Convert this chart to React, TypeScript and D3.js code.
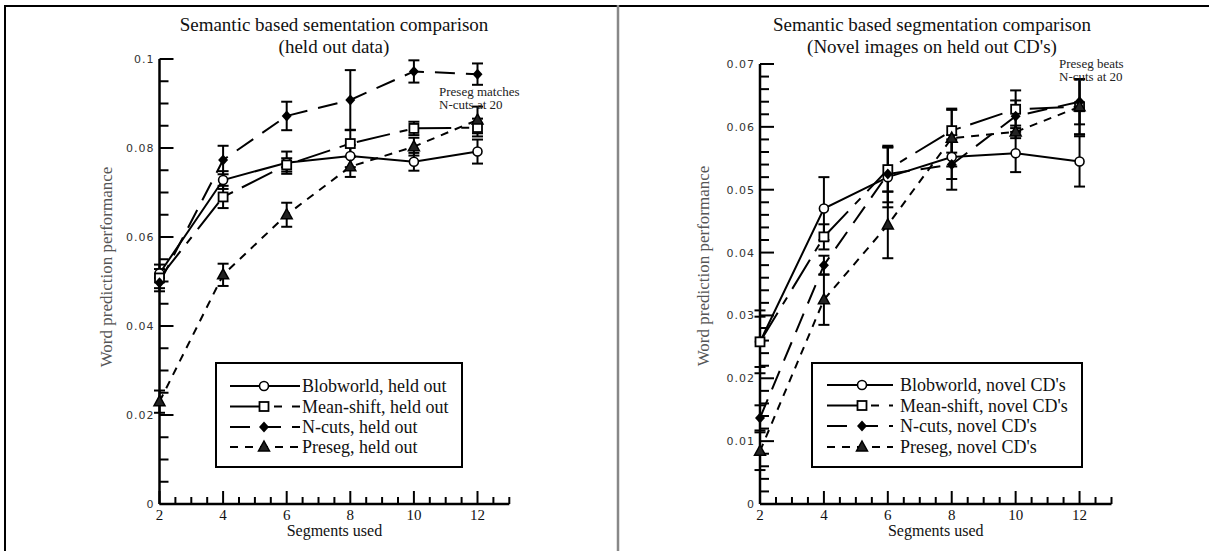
import React from 'react';
import * as d3 from 'd3';

const segments = [2, 4, 6, 8, 10, 12];

// held out data
const heldBlob = [0.0518, 0.0728, 0.0767, 0.0782, 0.0769, 0.0792];
const heldBlobErr = [0.001, 0.002, 0.0025, 0.0025, 0.002, 0.0027];
const heldMean = [0.0508, 0.069, 0.0762, 0.081, 0.0844, 0.0846];
const heldMeanErr = [0.003, 0.0025, 0.0015, 0.003, 0.0015, 0.002];
const heldNcuts = [0.0497, 0.0773, 0.0872, 0.0908, 0.0972, 0.0966];
const heldNcutsErr = [0.0012, 0.0032, 0.0032, 0.0067, 0.0025, 0.0024];
const heldPreseg = [0.023, 0.0515, 0.065, 0.0758, 0.0803, 0.0863];
const heldPresegErr = [0.0025, 0.0025, 0.0027, 0.0023, 0.002, 0.003];

// novel CD's
const novelBlob = [0.0258, 0.047, 0.052, 0.0552, 0.0558, 0.0545];
const novelBlobErr = [0.004, 0.005, 0.0048, 0.0035, 0.003, 0.004];
const novelMean = [0.0258, 0.0425, 0.0532, 0.0594, 0.0628, 0.0632];
const novelMeanErr = [0.005, 0.002, 0.0035, 0.0035, 0.003, 0.0044];
const novelNcuts = [0.0137, 0.038, 0.0525, 0.054, 0.0617, 0.064];
const novelNcutsErr = [0.002, 0.0015, 0.0045, 0.004, 0.0025, 0.0036];
const novelPreseg = [0.0084, 0.0325, 0.0444, 0.0582, 0.0592, 0.0632];
const novelPresegErr = [0.003, 0.004, 0.0053, 0.0045, 0.001, 0.0044];

const heldYTicks = [0, 0.02, 0.04, 0.06, 0.08, 0.1];
const novelYTicks = [0, 0.01, 0.02, 0.03, 0.04, 0.05, 0.06, 0.07];
const heldLegend = ['Blobworld, held out', 'Mean-shift, held out', 'N-cuts,  held out', 'Preseg, held out'];
const novelLegend = ["Blobworld, novel CD's", "Mean-shift, novel CD's", "N-cuts, novel CD's", "Preseg, novel CD's"];

const markers = ['circle', 'square', 'diamond', 'triangle'];
const dashes = ['none', '34,10,8,10', '20,11', '8,7'];

const serif = { fontFamily: "'Liberation Serif', 'Times New Roman', Times, 'DejaVu Serif', serif" };
const sans = { fontFamily: "'DejaVu Sans', sans-serif" };

function Marker({ kind, x, y }: { kind: string; x: number; y: number }) {
  if (kind === 'circle') return <circle cx={x} cy={y} r={4.5} fill="#fff" stroke="#000" strokeWidth={1.6} />;
  if (kind === 'square') return <rect x={x - 4.5} y={y - 4.5} width={9} height={9} fill="#fff" stroke="#000" strokeWidth={1.8} />;
  if (kind === 'diamond') return <path d={`M${x},${y - 5.5}L${x + 5},${y}L${x},${y + 5.5}L${x - 5},${y}Z`} fill="#000" />;
  return <path d={`M${x},${y - 6}L${x + 5.5},${y + 4}L${x - 5.5},${y + 4}Z`} fill="#222" stroke="#000" strokeWidth={1.5} />;
}

type PanelProps = {
  x0: number; x1: number; yTop: number; yBot: number;
  yMax: number; yMinor: number; yTicks: number[]; yFmt: (v: number) => string;
  series: number[][]; errs: number[][];
  title: string[]; titleX: number; yLabelX: number; yLabelY: number;
  note: string[]; noteX: number; noteY: number;
  legend: string[]; box: [number, number, number, number];
  legRows: number[]; legX: [number, number, number, number];
};

function Panel(p: PanelProps) {
  const x = d3.scaleLinear().domain([2, 13]).range([p.x0, p.x1]);
  const y = d3.scaleLinear().domain([0, p.yMax]).range([p.yBot, p.yTop]);
  const line = d3.line<number>().x((_, i) => x(segments[i])).y(d => y(d));
  const xMinor = d3.range(2, 13.01, 0.5);
  const yMinor = d3.range(0, p.yMax + 1e-9, p.yMinor);
  const isMajorY = (v: number) => p.yTicks.some(t => Math.abs(t - v) < 1e-9);
  return (
    <g>
      {p.title.map((t, i) => (
        <text key={t} x={p.titleX} y={31 + i * 22} textAnchor="middle" style={serif} fontSize={19} fill="#111">{t}</text>
      ))}
      <text transform={`translate(${p.yLabelX},${p.yLabelY}) rotate(-90)`} textAnchor="middle"
        style={serif} fontSize={17} fill="#555">Word prediction performance</text>
      <text x={(p.x0 + p.x1) / 2} y={536} textAnchor="middle" style={serif} fontSize={16} fill="#111">Segments used</text>
      {/* axes */}
      <line x1={p.x0} x2={p.x0} y1={p.yTop} y2={p.yBot} stroke="#000" strokeWidth={2.5} />
      <line x1={p.x0} x2={p.x1} y1={p.yBot} y2={p.yBot} stroke="#000" strokeWidth={2.5} />
      {yMinor.map(v => (
        <line key={'ym' + v} x1={p.x0} x2={p.x0 + (isMajorY(v) ? 14 : 9)} y1={y(v)} y2={y(v)} stroke="#000" strokeWidth={2} />
      ))}
      {xMinor.map(v => (
        <line key={'xm' + v} x1={x(v)} x2={x(v)} y1={p.yBot} y2={p.yBot - (v % 2 === 0 ? 13 : 7)} stroke="#000" strokeWidth={2} />
      ))}
      {p.yTicks.map(v => (
        <text key={'yl' + v} x={p.x0 - 5} y={y(v) + 4} textAnchor="end" style={sans}
          fontSize={11} letterSpacing={1} fill="#333">{p.yFmt(v)}</text>
      ))}
      {segments.map(v => (
        <text key={'xl' + v} x={x(v)} y={520} textAnchor="middle" style={serif} fontSize={15} fill="#111">{v}</text>
      ))}
      {/* series */}
      {p.series.map((s, k) => (
        <path key={'s' + k} d={line(s) || ''} fill="none" stroke="#000" strokeWidth={2}
          strokeDasharray={dashes[k] === 'none' ? undefined : dashes[k]} />
      ))}
      {p.series.map((s, k) => s.map((v, i) => {
        const e = p.errs[k][i];
        const cx = x(segments[i]);
        return (
          <g key={`e${k}-${i}`} stroke="#000" strokeWidth={2}>
            <line x1={cx} x2={cx} y1={y(v + e)} y2={y(v - e)} />
            <line x1={cx - 5.5} x2={cx + 5.5} y1={y(v + e)} y2={y(v + e)} />
            <line x1={cx - 5.5} x2={cx + 5.5} y1={y(v - e)} y2={y(v - e)} />
          </g>
        );
      }))}
      {p.series.map((s, k) => s.map((v, i) => (
        <Marker key={`m${k}-${i}`} kind={markers[k]} x={x(segments[i])} y={y(v)} />
      )))}
      {p.note.map((t, i) => (
        <text key={t} x={p.noteX} y={p.noteY + i * 13} style={serif} fontSize={13} fill="#222">{t}</text>
      ))}
      {/* legend */}
      <rect x={p.box[0]} y={p.box[1]} width={p.box[2] - p.box[0]} height={p.box[3] - p.box[1]}
        fill="#fff" stroke="#000" strokeWidth={2} />
      {p.legend.map((t, k) => (
        <g key={t}>
          <line x1={p.legX[0]} x2={p.legX[2]} y1={p.legRows[k]} y2={p.legRows[k]} stroke="#000" strokeWidth={2}
            strokeDasharray={dashes[k] === 'none' ? undefined : dashes[k]} />
          <Marker kind={markers[k]} x={p.legX[1]} y={p.legRows[k]} />
          <text x={p.legX[3]} y={p.legRows[k] + 6} style={serif} fontSize={18} fill="#111">{t}</text>
        </g>
      ))}
    </g>
  );
}

export default function App() {
  return (
    <svg width={1209} height={551} style={{ position: 'absolute', left: 0, top: 0, background: '#fff' }}>
      <line x1={5} x2={1209} y1={6} y2={6} stroke="#000" strokeWidth={2} />
      <line x1={5} x2={5} y1={5} y2={551} stroke="#000" strokeWidth={2} />
      <line x1={618} x2={618} y1={5} y2={551} stroke="#888" strokeWidth={2.5} />
      <Panel x0={159.5} x1={509.3} yTop={59} yBot={504} yMax={0.1} yMinor={0.005} yTicks={heldYTicks}
        yFmt={v => (v === 0 ? '0' : d3.format('.2~f')(v))}
        series={[heldBlob, heldMean, heldNcuts, heldPreseg]}
        errs={[heldBlobErr, heldMeanErr, heldNcutsErr, heldPresegErr]}
        title={['Semantic based sementation comparison', '(held out data)']} titleX={334} yLabelX={112} yLabelY={267}
        note={['Preseg matches', 'N-cuts at 20']} noteX={439} noteY={96}
        legend={heldLegend} box={[216, 363, 462, 467]} legRows={[386, 406.5, 427, 447]} legX={[230, 264, 300, 302]} />
      <Panel x0={760} x1={1111.5} yTop={64} yBot={504} yMax={0.07} yMinor={0.002} yTicks={novelYTicks}
        yFmt={v => (v === 0 ? '0' : d3.format('.2f')(v))}
        series={[novelBlob, novelMean, novelNcuts, novelPreseg]}
        errs={[novelBlobErr, novelMeanErr, novelNcutsErr, novelPresegErr]}
        title={['Semantic based segmentation comparison', "(Novel images on held out CD's)"]} titleX={932} yLabelX={709} yLabelY={266}
        note={['Preseg beats', 'N-cuts at 20']} noteX={1059} noteY={68}
        legend={novelLegend} box={[812, 363, 1082, 467]} legRows={[385, 405.5, 426, 447]} legX={[827, 862, 893, 900]} />
    </svg>
  );
}
